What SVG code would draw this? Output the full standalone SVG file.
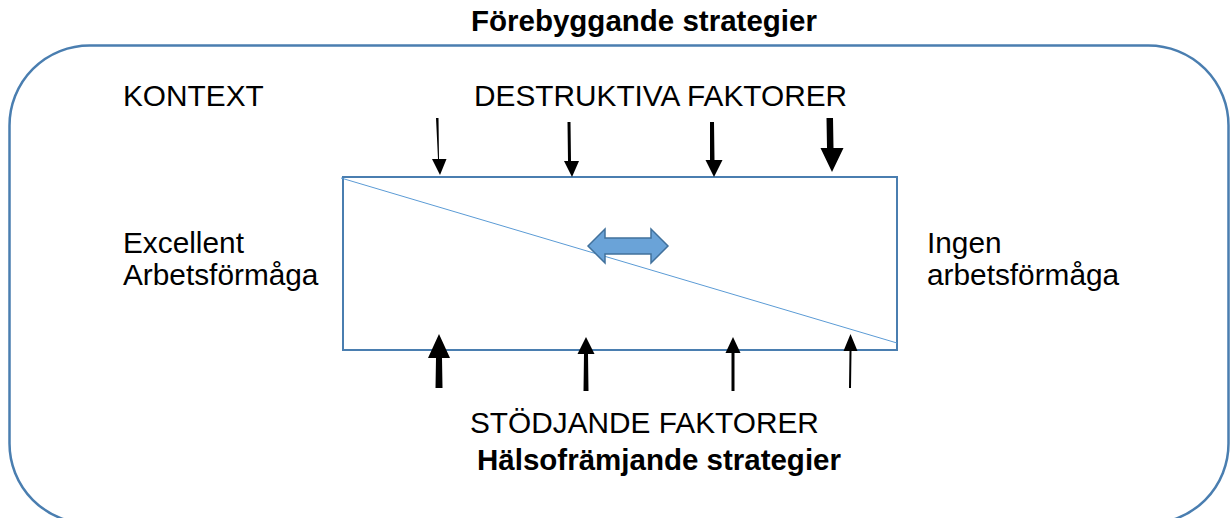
<svg xmlns="http://www.w3.org/2000/svg" width="1230" height="518" viewBox="0 0 1230 518">
  <style>
    .t { font-family: "Liberation Sans", Arial, sans-serif; font-size: 29.8px; fill: #000; }
    .b { font-weight: bold; font-size: 29.5px; }
    .frame { fill: none; stroke: #4a7eb0; stroke-width: 2.5; }
    .box { fill: none; stroke: #4a7eb0; stroke-width: 2; }
    .diag { stroke: #5b9bd5; stroke-width: 1; fill: none; }
    .arr { fill: #000; stroke: none; }
    .dbl { fill: #6aa3d8; stroke: #41719c; stroke-width: 1.5; stroke-linejoin: miter; }
  </style>
  <g id="context-frame">
    <rect class="frame" x="9.5" y="45.5" width="1219" height="478" rx="80" ry="80"/>
  </g>
  <g id="title-top">
    <text class="t b" x="471" y="31">Förebyggande strategier</text>
  </g>
  <g id="kontext">
    <text class="t" x="123" y="106">KONTEXT</text>
  </g>
  <g id="destruktiva">
    <text class="t" x="474" y="106">DESTRUKTIVA FAKTORER</text>
  </g>
  <g id="excellent">
    <text class="t" x="123" y="253">Excellent</text>
    <text class="t" x="123" y="285">Arbetsförmåga</text>
  </g>
  <g id="ingen">
    <text class="t" x="927" y="253">Ingen</text>
    <text class="t" x="927" y="285">arbetsförmåga</text>
  </g>
  <g id="stodjande">
    <text class="t" x="470" y="433">STÖDJANDE FAKTORER</text>
  </g>
  <g id="title-bottom">
    <text class="t b" x="477" y="470">Hälsofrämjande strategier</text>
  </g>
  <g id="work-box">
    <rect class="box" x="343" y="177" width="554" height="173"/>
    <line class="diag" x1="341" y1="178" x2="897" y2="343"/>
  </g>
  <g id="balance-arrow">
    <path class="dbl" d="M588,246 L605,229 L605,238 L651,238 L651,229 L668,246 L651,263 L651,254 L605,254 L605,263 Z"/>
  </g>
  <g id="connectors">
    <path class="arr" d="M436,118 L438.5,118 L439,159 L446.5,159 L440,175 L432,159 L438,159 Z"/>
    <path class="arr" d="M567.5,122 L570.5,122 L571,161 L579,161 L572,177 L564,161 L568,161 Z"/>
    <path class="arr" d="M710,122 L714,122 L714.5,160 L722.5,160 L714,177 L705.5,160 L710,160 Z"/>
    <path class="arr" d="M826.5,118 L833,118 L833.5,148 L843.5,148 L832,172 L820.5,148 L827,148 Z"/>
    <path class="arr" d="M435.5,388 L442.5,388 L442,358 L450,358 L439,334 L428,358 L436,358 Z"/>
    <path class="arr" d="M583.5,391 L588.5,391 L588,354 L594.5,354 L586,337 L577.5,354 L584,354 Z"/>
    <path class="arr" d="M731.5,391 L734.5,391 L734.5,353 L740.5,353 L733,337 L725.5,353 L731.5,353 Z"/>
    <path class="arr" d="M849,388 L851,388 L851.5,351 L857.5,351 L850.5,334 L843.5,351 L849.5,351 Z"/>
  </g>
</svg>
